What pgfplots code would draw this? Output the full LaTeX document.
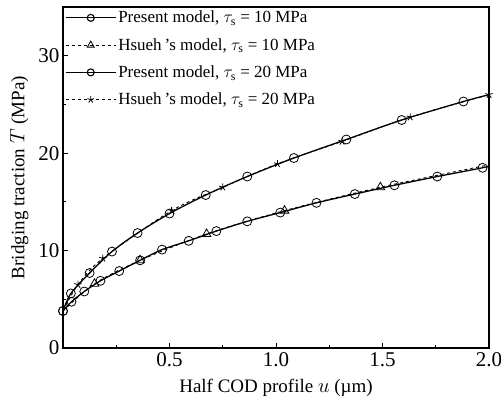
\documentclass[border=0pt]{standalone}
\usepackage{fontspec}
\setmainfont{Liberation Serif}
\usepackage{pgfplots}
\pgfplotsset{compat=1.18}
\begin{document}
\begin{tikzpicture}[x=1bp,y=1bp]
\path[use as bounding box] (-63,-56) rectangle (438,348);
\begin{axis}[
  at={(0,0)}, anchor=origin,
  scale only axis, width=426bp, height=341bp,
  xmin=0, xmax=2, ymin=0, ymax=35,
  axis line style={line width=1.6pt},
  xtick={0.5,1.0,1.5,2.0},
  xticklabels={0.5,1.0,1.5,2.0},
  ytick={0,10,20,30},
  minor xtick={0.25,0.75,1.25,1.75},
  minor ytick={5,15,25},
  tick align=inside, xtick pos=bottom, ytick pos=left,
  major tick length=5bp, minor tick length=3bp,
  tick style={line width=0.9pt, black},
  font=\fontsize{19bp}{22bp}\selectfont,
  tick label style={font=\fontsize{21bp}{23bp}\selectfont},
  xticklabel style={yshift=-1bp},
  /pgf/number format/assume math mode=true,
  xlabel={Half COD profile $u$ (\textmu m)},
  ylabel={Bridging traction $T$ (MPa)},
  xlabel style={at={(axis description cs:0.5,0)}, anchor=north, yshift=-28bp},
  ylabel style={at={(axis description cs:0,0.5)}, anchor=south, yshift=31bp},
  legend style={at={(0bp,342bp)}, anchor=north west, draw=none, fill=none,
    row sep=10bp, inner xsep=2bp, inner ysep=3bp,
    font=\fontsize{17bp}{19bp}\selectfont, cells={anchor=west}},
  legend cell align=left,
  legend image code/.code={\draw[#1] (0bp,0bp) -- (50bp,0bp);
    \draw[#1, solid] plot coordinates {(25bp,0bp)};},
]
% lower curve, present model tau_s = 10 MPa
\addplot[black, line width=1.3pt, smooth, forget plot] coordinates {
(0,3.8) (0.04,4.75) (0.10,5.8) (0.176,6.9) (0.264,7.9) (0.362,9.0) (0.465,10.1)
(0.59,11.0) (0.72,12.0) (0.865,13.0) (1.02,13.9) (1.19,14.9) (1.37,15.8)
(1.556,16.7) (1.757,17.6) (1.97,18.5) (2.0,18.7)};
\addplot[only marks, mark=o, mark size=4.5bp, black, thick, forget plot, mark options={fill=white}] coordinates {
(0,3.8) (0.04,4.75) (0.10,5.8) (0.176,6.9) (0.264,7.9) (0.362,9.0) (0.465,10.1)
(0.59,11.0) (0.72,12.0) (0.865,13.0) (1.02,13.9) (1.19,14.9) (1.37,15.8)
(1.556,16.7) (1.757,17.6) (1.97,18.5)};
% lower curve, Hsueh tau_s = 10 MPa
\addplot[black, dashed, line width=0.9pt, smooth, forget plot] coordinates {
(0,3.8) (0.148,6.6) (0.362,9.0) (0.674,11.7) (1.04,14.1) (1.49,16.5) (2.0,18.8)};
\addplot[only marks, mark=triangle, mark size=5bp, black, thick, forget plot, mark options={fill=white}] coordinates {
(0.148,6.6) (0.362,9.0) (0.674,11.7) (1.04,14.1) (1.49,16.5)};
% upper curve, present model tau_s = 20 MPa
\addplot[black, line width=1.3pt, smooth, forget plot] coordinates {
(0,3.8) (0.037,5.6) (0.125,7.7) (0.23,9.9) (0.35,11.8) (0.50,13.8) (0.67,15.7)
(0.865,17.6) (1.084,19.5) (1.33,21.4) (1.59,23.4) (1.88,25.3) (2.0,26.0)};
% upper curve, Hsueh tau_s = 20 MPa
\addplot[black, dashed, line width=0.9pt, smooth, forget plot] coordinates {
(0,3.8) (0.07,6.5) (0.187,9.2) (0.51,14.1) (0.75,16.5) (1.007,18.9) (1.31,21.2)
(1.63,23.7) (2.0,26.0)};
\addplot[only marks, mark=star, mark size=3.8bp, black, thick, forget plot] coordinates {
(0.07,6.5) (0.187,9.2) (0.51,14.1) (0.75,16.5) (1.007,18.9) (1.31,21.2)
(1.63,23.7) (2.0,26.0)};
\addplot[only marks, mark=o, mark size=4.5bp, black, thick, forget plot, mark options={fill=white}] coordinates {
(0,3.8) (0.037,5.6) (0.125,7.7) (0.23,9.9) (0.35,11.8) (0.50,13.8) (0.67,15.7)
(0.865,17.6) (1.084,19.5) (1.33,21.4) (1.59,23.4) (1.88,25.3)};
\addlegendimage{black, line width=1.1pt, mark=o, mark size=3.5bp, mark options={fill=white}}
\addlegendentry{Present model, $\tau_{\mathrm{s}}$ = 10 MPa}
\addlegendimage{black, dashed, line width=0.8pt, mark=triangle, mark size=4bp, mark options={solid, fill=white}}
\addlegendentry{Hsueh\,\textquoteright s model, $\tau_{\mathrm{s}}$ = 10 MPa}
\addlegendimage{black, line width=1.1pt, mark=o, mark size=3.5bp, mark options={fill=white}}
\addlegendentry{Present model, $\tau_{\mathrm{s}}$ = 20 MPa}
\addlegendimage{black, dashed, line width=0.8pt, mark=star, mark size=3.5bp, mark options={solid}}
\addlegendentry{Hsueh\,\textquoteright s model, $\tau_{\mathrm{s}}$ = 20 MPa}
\end{axis}
\end{tikzpicture}
\end{document}
